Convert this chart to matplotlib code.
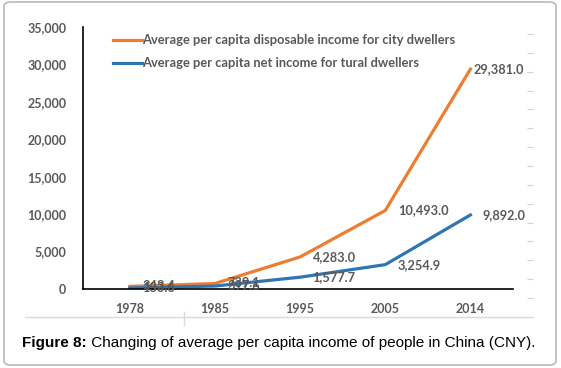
import matplotlib.pyplot as plt
from matplotlib.lines import Line2D
from matplotlib.patches import FancyBboxPatch
from matplotlib.ticker import FuncFormatter

years = ['1978', '1985', '1995', '2005', '2014']
city = [343.4, 739.1, 4283.0, 10493.0, 29381.0]
rural = [133.6, 397.6, 1577.7, 3254.9, 9892.0]
city_label = 'Average per capita disposable income for city dwellers'
rural_label = 'Average per capita net income for tural dwellers'
caption_bold = 'Figure 8:'
caption_rest = ' Changing of average per capita income of people in China (CNY).'

W, H = 561, 368
gray = '#595959'
plt.rcParams['font.family'] = ['Lato', 'DejaVu Sans']

fig = plt.figure(figsize=(W / 100, H / 100), dpi=100)
fig.patch.set_facecolor('white')

# outer rounded box
box = FancyBboxPatch((4 / W, 3 / H), 552 / W, 363 / H, boxstyle='round,pad=0,rounding_size=0.012',
                     transform=fig.transFigure, fc='none', ec='#b8b8b8', lw=1.2)
fig.add_artist(box)

ax = fig.add_axes([83 / W, 1 - 289 / H, 430 / W, 262 / H])
x = range(len(years))
ax.plot(x, city, color='#ED7D31', lw=2.3, label=city_label, solid_joinstyle='miter')
ax.plot(x, rural, color='#2E75B6', lw=2.3, label=rural_label, solid_joinstyle='miter')

for xs in (city, rural):
    for i, v in enumerate(xs):
        dx = 2 if v == max(city) else 9
        ax.annotate(f'{v:,.1f}', (i, v), xytext=(dx, 0), textcoords='offset points',
                    ha='left', va='center', fontsize=9.2, fontweight='bold', color=gray)

ax.set_xlim(-0.55, 4.5)
ax.set_ylim(0, 35000)
ax.set_xticks(list(x))
ax.set_xticklabels(years)
ax.set_yticks(range(0, 35001, 5000))
ax.yaxis.set_major_formatter(FuncFormatter(lambda v, p: f'{v:,.0f}'))
ax.tick_params(axis='both', length=0, labelsize=9, labelcolor=gray)
ax.tick_params(axis='y', pad=12)
ax.tick_params(axis='x', pad=10)
for lab in ax.get_xticklabels() + ax.get_yticklabels():
    lab.set_fontweight('bold')
for s in ['top', 'right']:
    ax.spines[s].set_visible(False)
for s in ['left', 'bottom']:
    ax.spines[s].set_color('black')
    ax.spines[s].set_linewidth(1.2)

leg = ax.legend(loc='upper left', bbox_to_anchor=(25 / 430, 1 - 2 / 262), frameon=False,
                handlelength=2.2, handletextpad=0.0, labelspacing=0.85, borderaxespad=0,
                prop={'size': 9.3, 'weight': 'bold'}, labelcolor=gray)

# small dashes on the right side
ax3 = fig.add_axes([533 / W, 1 - 298 / H, 0.0001, 264 / H])
ax3.set_ylim(0, 14)
ax3.set_yticks(range(15))
ax3.set_xticks([])
ax3.tick_params(axis='y', length=4.5, color='#d0d0d0', labelleft=False, direction='out', width=0.8)
for s in ax3.spines.values():
    s.set_visible(False)

# gray line under the axis
fig.add_artist(Line2D([25 / W, 533 / W], [1 - 317 / H, 1 - 317 / H], color='#d9d9d9', lw=1))
fig.add_artist(Line2D([184 / W, 184 / W], [1 - 312 / H, 1 - 325 / H], color='#d9d9d9', lw=1))

# caption
r = fig.canvas.get_renderer()
cap_font = ['Liberation Sans', 'DejaVu Sans']
t1 = fig.text(22 / W, 1 - 343 / H, caption_bold, fontsize=11, fontweight='bold',
              family=cap_font, va='center', ha='left')
bb = t1.get_window_extent(r)
fig.text(bb.x1 / W, 1 - 343 / H, caption_rest, fontsize=11, family=cap_font, va='center', ha='left')

fig.savefig('out.png', dpi=100)
